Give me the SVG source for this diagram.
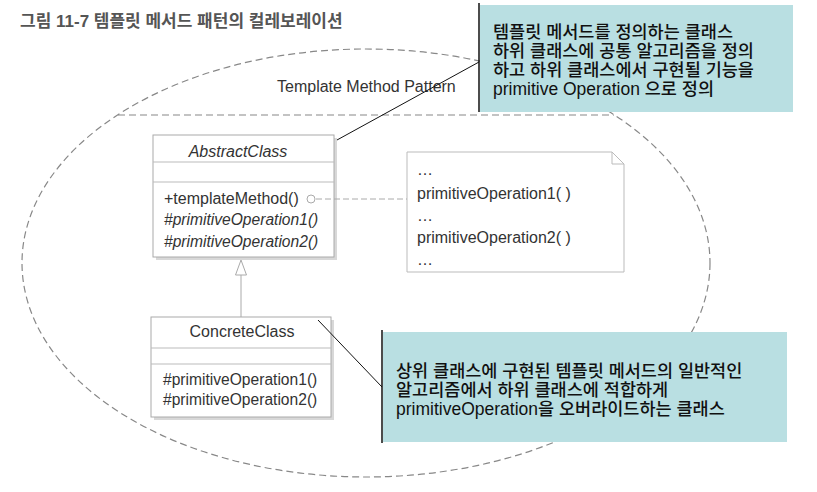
<svg xmlns="http://www.w3.org/2000/svg" width="817" height="492" viewBox="0 0 817 492">
  <defs>
    <style>
      .ko { font-family: "Liberation Sans", "Noto Sans CJK KR", sans-serif; }
      .title { font-size: 17px; fill: #555; font-weight: bold; }
      .note { font-size: 17.5px; fill: #111; font-weight: 500; }
      .uml { font-size: 16px; fill: #333; }
      .op { font-size: 15.6px; }
      .cls { fill: #fff; stroke: #aaa; stroke-width: 1; }
      .shadow { fill: #d8d8d8; }
      .div { stroke: #bbb; stroke-width: 1; }
      .dash { fill: none; stroke: #888; stroke-width: 1.2; stroke-dasharray: 7 4; }
      .blue { fill: #b9dfe2; }
      .edge { stroke: #111; stroke-width: 1; fill: none; }
    </style>
  </defs>
  <rect width="817" height="492" fill="#fff"/>

  <text class="ko title" x="20" y="27">그림 11-7 템플릿 메서드 패턴의 컬레보레이션</text>

  <g id="collaboration">
    <ellipse class="dash" cx="366" cy="263" rx="344" ry="214"/>
    <line class="dash" x1="118" y1="115" x2="614" y2="115"/>
    <text class="ko uml" x="277" y="92" font-size="17.5">Template Method Pattern</text>
  </g>

  <g id="AbstractClass">
    <rect class="shadow" x="156" y="138" width="181" height="122"/>
    <rect class="cls" x="153" y="135" width="181" height="122"/>
    <line class="div" x1="153" y1="162" x2="334" y2="162"/>
    <line class="div" x1="153" y1="182" x2="334" y2="182"/>
    <text class="ko uml" x="238" y="157" text-anchor="middle" font-style="italic">AbstractClass</text>
    <text class="ko uml" x="164" y="204">+templateMethod()</text>
    <text class="ko uml op" x="164" y="225" font-style="italic">#primitiveOperation1()</text>
    <text class="ko uml op" x="164" y="247" font-style="italic">#primitiveOperation2()</text>
  </g>

  <g id="Note">
    <path d="M407,152 H612 L624,164 V272 H407 Z" fill="#fff" stroke="#bbb" stroke-width="1"/>
    <path d="M612,152 V164 H624" fill="none" stroke="#bbb" stroke-width="1"/>
    <text class="ko uml" x="417" y="175" font-size="14">…</text>
    <text class="ko uml" x="417" y="199" font-size="14">primitiveOperation1( )</text>
    <text class="ko uml" x="417" y="221" font-size="14">…</text>
    <text class="ko uml" x="417" y="243" font-size="14">primitiveOperation2( )</text>
    <text class="ko uml" x="417" y="265" font-size="14">…</text>
  </g>

  <g id="ConcreteClass">
    <rect class="shadow" x="154" y="320" width="180" height="100"/>
    <rect class="cls" x="151" y="317" width="180" height="100"/>
    <line class="div" x1="151" y1="348" x2="331" y2="348"/>
    <line class="div" x1="151" y1="364" x2="331" y2="364"/>
    <text class="ko uml" x="242" y="337" text-anchor="middle">ConcreteClass</text>
    <text class="ko uml op" x="163" y="385">#primitiveOperation1()</text>
    <text class="ko uml op" x="163" y="405">#primitiveOperation2()</text>
  </g>

  <g id="connectors">
    <line x1="316" y1="199" x2="407" y2="199" stroke="#aaa" stroke-width="1" stroke-dasharray="6 3"/>
    <circle cx="311" cy="199" r="4" fill="#fff" stroke="#aaa" stroke-width="1"/>
    <line x1="241" y1="275" x2="241" y2="317" stroke="#aaa" stroke-width="1"/>
    <polygon points="241,260 235.5,275 246.5,275" fill="#fff" stroke="#aaa" stroke-width="1"/>
    <line class="edge" x1="337" y1="140" x2="479" y2="62"/>
    <line class="edge" x1="318" y1="320" x2="382" y2="387"/>
  </g>

  <g id="NoteTop">
    <rect class="blue" x="480" y="5" width="313" height="107"/>
    <line x1="479" y1="3" x2="479" y2="112" stroke="#111" stroke-width="1.5"/>
    <text class="ko note" x="493" y="38">템플릿 메서드를 정의하는 클래스</text>
    <text class="ko note" x="493" y="57">하위 클래스에 공통 알고리즘을 정의</text>
    <text class="ko note" x="493" y="76">하고 하위 클래스에서 구현될 기능을</text>
    <text class="ko note" x="493" y="95">primitive Operation 으로 정의</text>
  </g>

  <g id="NoteBottom">
    <rect class="blue" x="383" y="332" width="404" height="110"/>
    <line x1="382" y1="330" x2="382" y2="443" stroke="#111" stroke-width="1.5"/>
    <text class="ko note" x="396" y="377">상위 클래스에 구현된 템플릿 메서드의 일반적인</text>
    <text class="ko note" x="396" y="396">알고리즘에서 하위 클래스에 적합하게</text>
    <text class="ko note" x="396" y="415">primitiveOperation을 오버라이드하는 클래스</text>
  </g>
</svg>
